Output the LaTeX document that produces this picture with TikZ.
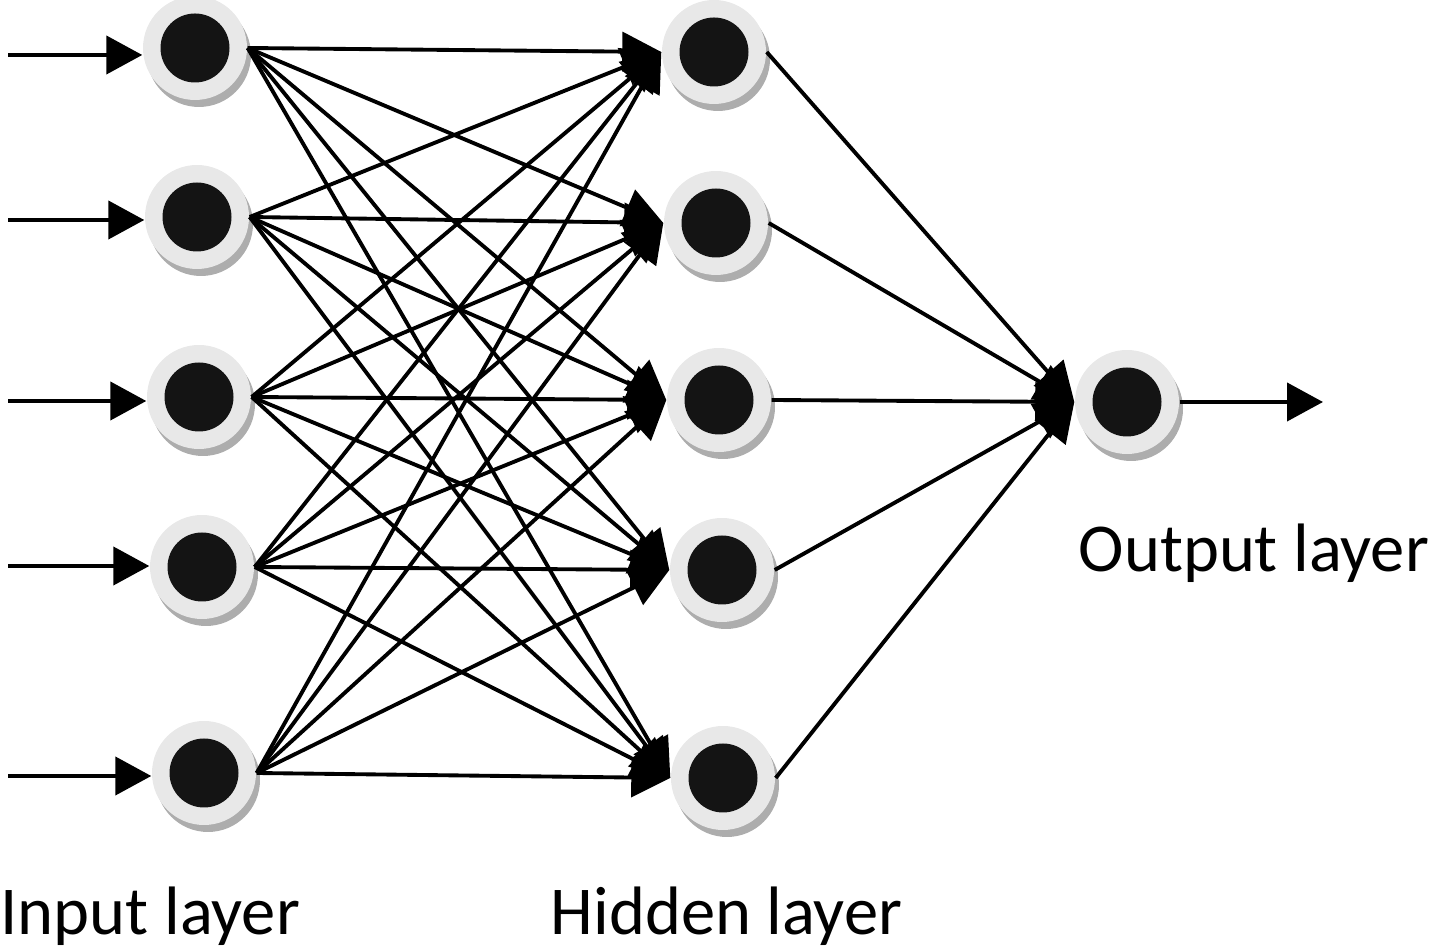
\documentclass[tikz,border=0pt]{standalone}
\usepackage{fontspec}
\setmainfont{Carlito}
\usetikzlibrary{arrows.meta,shadows}

\tikzset{
  neuron/.style={circle, fill=black!9, minimum size=10.4mm, inner sep=0pt,
    drop shadow={shadow xshift=0.4mm, shadow yshift=-0.7mm, fill=black!32, opacity=1},
    path picture={\fill[black!92] (path picture bounding box.center) circle (3.45mm);}},
  link/.style={line width=1.1pt, -{Triangle[length=3.9mm,width=3.9mm]}},
  feed/.style={line width=1.2pt, -{Triangle[length=3.6mm,width=3.8mm]}},
  caption/.style={anchor=base west, inner sep=0pt, font=\fontsize{19.5}{23}\selectfont}
}

\begin{document}
\begin{tikzpicture}[x=0.1mm, y=-0.1mm]
            \useasboundingbox (0,0) rectangle (1436,950);
            % Input layer
            \node[neuron] (in1) at (195,48) {};
            \node[neuron] (in2) at (197,217) {};
            \node[neuron] (in3) at (199,397) {};
            \node[neuron] (in4) at (202,567) {};
            \node[neuron] (in5) at (204,773) {};
            % Hidden layer
            \node[neuron] (hid1) at (714,52) {};
            \node[neuron] (hid2) at (716,223) {};
            \node[neuron] (hid3) at (719,400) {};
            \node[neuron] (hid4) at (722,570) {};
            \node[neuron] (hid5) at (723,778) {};
            % Output layer
            \node[neuron] (out) at (1127,402) {};
            % Inputs coming in, output going out
            \coordinate (x1) at (8,55);
            \coordinate (x2) at (8,220);
            \coordinate (x3) at (8,401);
            \coordinate (x4) at (8,566);
            \coordinate (x5) at (8,776);
            \coordinate (y) at (1323,402);
            \draw[feed] (x1) -- (x1 -| in1.west);
            \draw[feed] (x2) -- (x2 -| in2.west);
            \draw[feed] (x3) -- (x3 -| in3.west);
            \draw[feed] (x4) -- (x4 -| in4.west);
            \draw[feed] (x5) -- (x5 -| in5.west);
            \draw[feed] (out.east) -- (y);
            % Input 1 to hidden
            \draw[link] (in1.east) -- (hid1.west); \draw[link] (in1.east) -- (hid2.west); \draw[link] (in1.east) -- (hid3.west); \draw[link] (in1.east) -- (hid4.west); \draw[link] (in1.east) -- (hid5.west);
            % Input 2 to hidden
            \draw[link] (in2.east) -- (hid1.west); \draw[link] (in2.east) -- (hid2.west); \draw[link] (in2.east) -- (hid3.west); \draw[link] (in2.east) -- (hid4.west); \draw[link] (in2.east) -- (hid5.west);
            % Input 3 to hidden
            \draw[link] (in3.east) -- (hid1.west); \draw[link] (in3.east) -- (hid2.west); \draw[link] (in3.east) -- (hid3.west); \draw[link] (in3.east) -- (hid4.west); \draw[link] (in3.east) -- (hid5.west);
            % Input 4 to hidden
            \draw[link] (in4.east) -- (hid1.west); \draw[link] (in4.east) -- (hid2.west); \draw[link] (in4.east) -- (hid3.west); \draw[link] (in4.east) -- (hid4.west); \draw[link] (in4.east) -- (hid5.west);
            % Input 5 to hidden
            \draw[link] (in5.east) -- (hid1.west); \draw[link] (in5.east) -- (hid2.west); \draw[link] (in5.east) -- (hid3.west); \draw[link] (in5.east) -- (hid4.west); \draw[link] (in5.east) -- (hid5.west);
            % Hidden to output
            \draw[link] (hid1.east) -- (out.west); \draw[link] (hid2.east) -- (out.west); \draw[link] (hid3.east) -- (out.west); \draw[link] (hid4.east) -- (out.west); \draw[link] (hid5.east) -- (out.west);
            % Layer names
            \node[caption] (inname) at (0,935) {Input layer};
            \node[caption] (hidname) at (550,935) {Hidden layer};
            \node[caption] (outname) at (1078,572) {Output layer};
        \end{tikzpicture}
\end{document}
